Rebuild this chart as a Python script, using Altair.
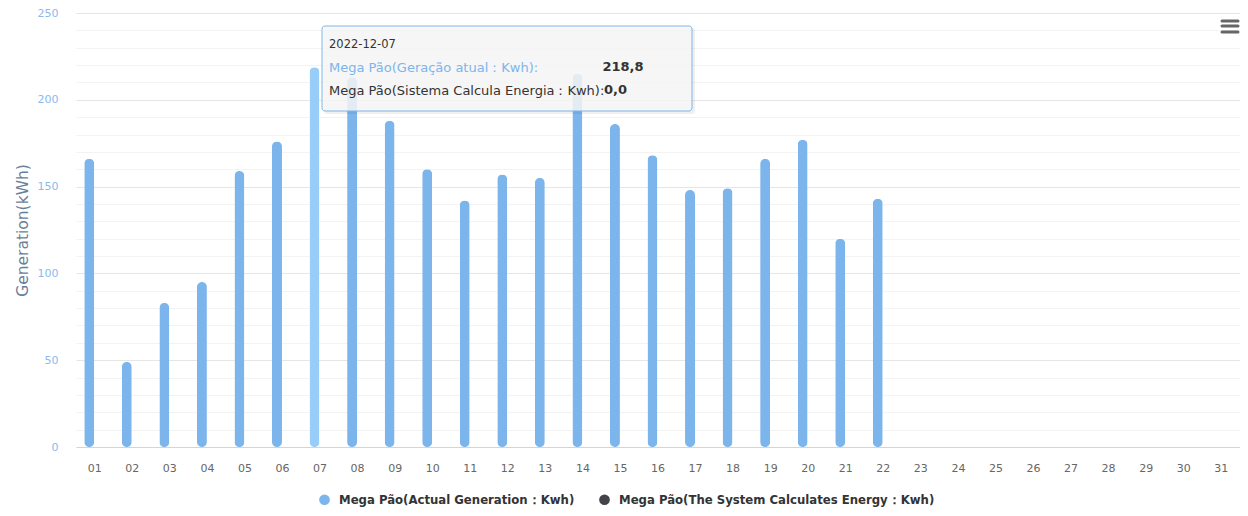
import altair as alt
import pandas as pd

# ---- data ----
days = [f"{i:02d}" for i in range(1, 32)]
actual = [166, 49, 83, 95, 159, 176, 218.8, 213, 188, 160, 142, 157, 155,
          215, 186, 168, 148, 149, 166, 177, 120, 143]
system = [0.0] * 22
series_names = ["Mega Pão(Actual Generation：Kwh)", "Mega Pão(The System Calculates Energy：Kwh)"]
series_colors = ["#7cb5ec", "#434348"]
hover_day = "07"
hover_date = "2022-12-07"
tip_label_1 = "Mega Pão(Geração atual：Kwh):"
tip_label_2 = "Mega Pão(Sistema Calcula Energia：Kwh):"
y_ticks = list(range(0, 251, 10))
menu_lines = [8, 13, 19]

bars = pd.DataFrame({
    "day": days[:len(actual)],
    "value": actual,
    "series": series_names[0],
})

hi = days.index(hover_day)
tip = pd.DataFrame({
    "date": [hover_date],
    "v1": [f"{actual[hi]:.1f}".replace(".", ",")],
    "v2": [f"{system[hi]:.1f}".replace(".", ",")],
    "l1": [tip_label_1],
    "l2": [tip_label_2],
})

FONT = "DejaVu Sans"

x_enc = alt.X("day:N", scale=alt.Scale(domain=days, paddingInner=0, paddingOuter=0),
              axis=alt.Axis(title=None, labelAngle=0, labelColor="#666666", labelFontSize=11,
                            labelFont=FONT, labelPadding=15, ticks=False, grid=False,
                            domainColor="#ccd6eb", domainWidth=1))
y_enc = alt.Y("value:Q", scale=alt.Scale(domain=[0, 250], nice=False, zero=True),
              axis=alt.Axis(title="Generation(kWh)", values=y_ticks,
                            labelExpr="datum.value % 50 === 0 ? datum.label : ''",
                            labelColor="#8ab9ee", labelFontSize=11, labelFont=FONT,
                            labelPadding=18, ticks=False, domain=False,
                            gridColor={"condition": {"test": "datum.value % 50 === 0", "value": "#e6e6e6"},
                                       "value": "#f3f3f3"},
                            titleColor="#6a7f98", titleFontSize=15.5, titleFont=FONT,
                            titleFontWeight="normal", titlePadding=7))

bar_layer = alt.Chart(bars).mark_bar(size=10, cornerRadius=5).encode(
    x=x_enc,
    xOffset=alt.XOffset("series:N", scale=alt.Scale(domain=series_names, paddingOuter=0.7,
                                                    paddingInner=0)),
    y=y_enc,
    color=alt.condition(
        f"datum.day === '{hover_day}'",
        alt.value("#98cdfa"),
        alt.Color("series:N",
                  scale=alt.Scale(domain=series_names, range=series_colors),
                  legend=alt.Legend(title=None, orient="none", legendX=242, legendY=480,
                                    direction="horizontal", symbolType="circle", symbolSize=115,
                                    labelFontSize=13, labelFont="DejaVu Sans Condensed",
                                    labelFontWeight="bold", labelColor="#333333", labelLimit=0,
                                    labelOffset=8, columnPadding=23, symbolStrokeWidth=0)),
    ),
)

shadow = alt.Chart(tip).mark_rect(fill="#000000", fillOpacity=0.06, cornerRadius=3).encode(
    x=alt.value(248), x2=alt.value(619), y=alt.value(15), y2=alt.value(101))
box = alt.Chart(tip).mark_rect(fill="#f7f7f7", fillOpacity=0.85, stroke="#7cb5ec",
                               strokeWidth=1, cornerRadius=3).encode(
    x=alt.value(246), x2=alt.value(616), y=alt.value(13), y2=alt.value(98))
t_date = alt.Chart(tip).mark_text(align="left", baseline="middle", fontSize=11.5, font=FONT,
                                  color="#333333").encode(
    x=alt.value(253), y=alt.value(32), text="date:N")
t_l1 = alt.Chart(tip).mark_text(align="left", baseline="middle", fontSize=13, font=FONT,
                                color="#7cb5ec").encode(
    x=alt.value(253), y=alt.value(55), text="l1:N")
t_v1 = alt.Chart(tip).mark_text(align="center", baseline="middle", fontSize=13, font=FONT,
                                fontWeight="bold", color="#333333").encode(
    x=alt.value(547), y=alt.value(54), text="v1:N")
t_l2 = alt.Chart(tip).mark_text(align="left", baseline="middle", fontSize=13, font=FONT,
                                color="#333333").encode(
    x=alt.value(253), y=alt.value(78), text="l2:N")
t_v2 = alt.Chart(tip).mark_text(align="left", baseline="middle", fontSize=13, font=FONT,
                                fontWeight="bold", color="#333333").encode(
    x=alt.value(528), y=alt.value(77), text="v2:N")

menu = alt.Chart(pd.DataFrame({"py": menu_lines})).mark_rule(
    color="#666666", strokeWidth=3, strokeCap="round").encode(
    x=alt.value(1146), x2=alt.value(1162), y=alt.Y("py:Q", scale=None))

chart = alt.layer(bar_layer, shadow, box, t_date, t_l1, t_v1, t_l2, t_v2, menu).properties(
    width=1164, height=434,
    autosize=alt.AutoSizeParams(type="none"),
    padding={"left": 68, "top": 5, "right": 0, "bottom": 61},
    background="white",
).configure_view(stroke=None)

chart.save("out.html", embed_options={"renderer": "svg", "actions": False})
